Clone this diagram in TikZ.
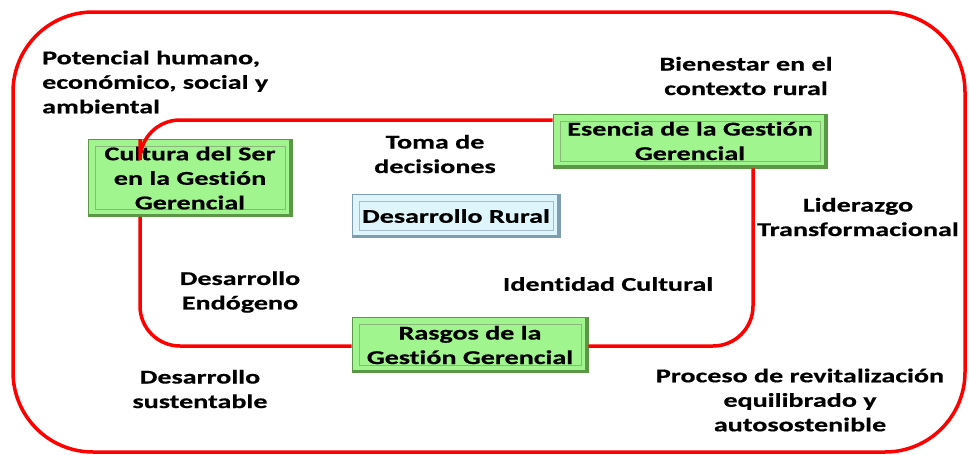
\documentclass[tikz,border=0pt]{standalone}
\usepackage{fontspec}
\setmainfont{Carlito}[FakeStretch=1.44,Ligatures=NoCommon,BoldFeatures={FakeBold=0.6}]
\usepackage{tikz}
\usetikzlibrary{positioning}
\definecolor{LOOP}{HTML}{FF0000}
\definecolor{GREENBOX}{HTML}{A0F58E}
\definecolor{GREENEDGE}{HTML}{5A9845}
\definecolor{BLUEBOX}{HTML}{DDF5FB}
\definecolor{BLUEEDGE}{HTML}{7E9EAE}
\newcommand{\bevel}[1]{%
  \draw[#1!70, line width=0.5pt] ([shift={(7pt,-7pt)}]path picture bounding box.north west) rectangle ([shift={(-7pt,7pt)}]path picture bounding box.south east);
  \draw[#1, line width=6pt] (path picture bounding box.north east) -- (path picture bounding box.south east) -- (path picture bounding box.south west);}

\begin{document}
\begin{tikzpicture}[x=1pt,y=-1pt,font=\fontsize{19.5}{24.5}\selectfont\bfseries]
	\tikzstyle{greenbox}=[draw=GREENEDGE, fill=GREENBOX, line width=0.8pt, align=center, inner sep=2pt, path picture={\bevel{GREENEDGE}}]
	\tikzstyle{bluebox}=[draw=BLUEEDGE, fill=BLUEBOX, line width=0.8pt, align=center, inner sep=2pt, path picture={\bevel{BLUEEDGE}}]
	\tikzstyle{loop}=[draw=LOOP, line width=3.5pt]
	\tikzstyle{label}=[align=center, inner sep=0pt]
	\useasboundingbox (0,0) rectangle (969,455);
	
	% outer frame
	\draw[loop, rounded corners=80pt] (13,12) rectangle (965,452);
	
	\coordinate (tl) at (140,120);
	\coordinate (br) at (753,346);
	
	\node[greenbox, minimum width=204pt, minimum height=77pt] (cultura) at (190,178) {Cultura del Ser\\en la Gestión\\Gerencial};
	\node[greenbox, minimum width=274pt, minimum height=54pt] (esencia) at (690,141) {Esencia de la Gestión\\Gerencial};
	\node[bluebox, minimum width=208pt, minimum height=43pt] (rural) at (456,216) {Desarrollo Rural};
	\node[greenbox, minimum width=236pt, minimum height=55pt] (rasgos) at (470,345) {Rasgos de la\\Gestión Gerencial};
	
	% inner loop
	\draw[loop, rounded corners=40pt] (cultura.north -| tl) |- (esencia.west |- tl);
	\draw[loop, rounded corners=40pt] (esencia.south -| br) |- (rasgos.east |- br);
	\draw[loop, rounded corners=40pt] (rasgos.west |- br) -| (cultura.south -| tl);
	
	\node[label, align=left, anchor=west] (potencial) at (42,82) {Potencial humano,\\económico, social y\\ambiental};
	\node[label] (bienestar) at (746,76) {Bienestar en el\\contexto rural};
	\node[label] (toma) at (435,154) {Toma de\\decisiones};
	\node[label] (liderazgo) at (858,217) {Liderazgo\\Transformacional};
	\node[label] (endogeno) at (240,292) {Desarrollo\\Endógeno};
	\node[label] (identidad) at (608,284) {Identidad Cultural};
	\node[label] (sustentable) at (200,389) {Desarrollo\\sustentable};
	\node[label] (proceso) at (800,400) {Proceso de revitalización\\equilibrado y\\autosostenible};
\end{tikzpicture}
\end{document}
